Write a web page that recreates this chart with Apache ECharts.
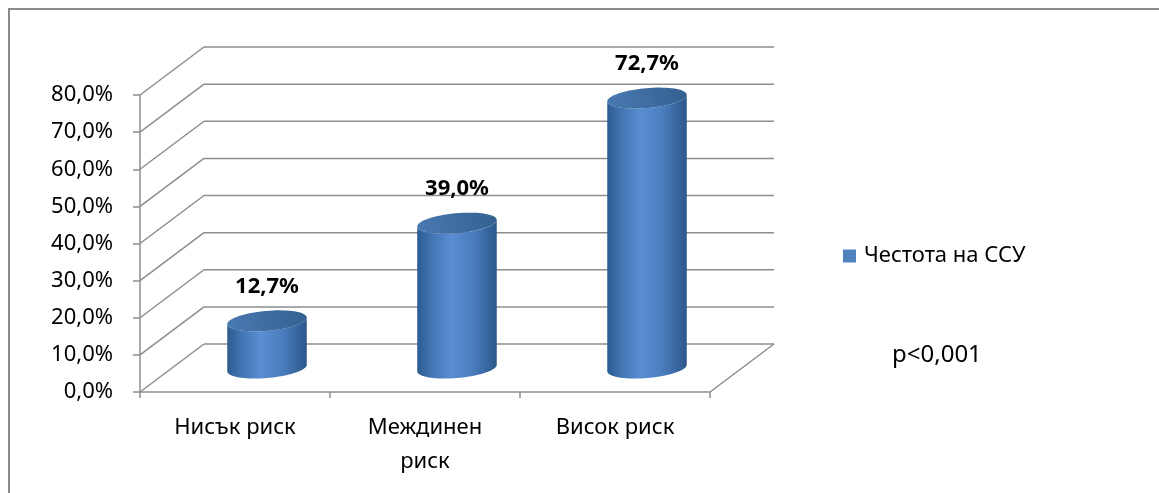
<!DOCTYPE html>
<html>
<head>
<meta charset="utf-8">
<script src="https://cdn.jsdelivr.net/npm/echarts@6/dist/echarts.min.js"></script>
<style>
  html, body { margin: 0; padding: 0; background: #fff; }
  #chart { width: 1159px; height: 493px; }
</style>
</head>
<body>
<div id="chart"></div>
<script>
// ---- data ----
const categories = ['Нисък риск', 'Междинен\nриск', 'Висок риск'];
const seriesName = 'Честота на ССУ';
const values = [12.7, 39.0, 72.7];
const yTicks = [0, 10, 20, 30, 40, 50, 60, 70, 80];
const note = 'p<0,001';

// ---- 3D look: depth offset of the back wall, cylinder tilt ----
const DX = 64, DY = -48;
const TILT = -5 * Math.PI / 180;
const FONT = '"Noto Sans", "Open Sans", sans-serif';
const GRID_COLOR = '#8e8e8e';

const fmt = v => v.toFixed(1).replace('.', ',') + '%';

function ellipsePoint(cx, cy, a, b, t) {
  const c = Math.cos(TILT), s = Math.sin(TILT);
  return [cx + a * Math.cos(t) * c - b * Math.sin(t) * s,
          cy + a * Math.cos(t) * s + b * Math.sin(t) * c];
}
function arc(cx, cy, a, b, t0, t1, n) {
  const pts = [];
  for (let k = 0; k <= n; k++) pts.push(ellipsePoint(cx, cy, a, b, t0 + (t1 - t0) * k / n));
  return pts;
}

// gridlines on the back wall, diagonals to the front axis, floor edge
function renderWalls(params, api) {
  const cs = params.coordSys;
  const v = api.value(1);
  const y = api.coord([0, v])[1];
  const x0 = cs.x, x1 = cs.x + cs.width;
  const style = { stroke: GRID_COLOR, lineWidth: 1.5 };
  const children = [
    { type: 'line', shape: { x1: x0, y1: y, x2: x0 + DX, y2: y + DY }, style },
    { type: 'line', shape: { x1: x0 + DX, y1: y + DY, x2: x1 + DX, y2: y + DY }, style }
  ];
  if (v === 0) {
    children.push({ type: 'line', shape: { x1: x1, y1: y, x2: x1 + DX, y2: y + DY }, style });
  }
  return { type: 'group', children };
}

// a cylinder standing in the middle of the floor depth
function renderCylinder(params, api) {
  const i = api.value(0), v = api.value(1);
  const base = api.coord([i, 0]);
  const top = api.coord([i, v]);
  const bw = api.size([1, 0])[0];
  const a = bw * 0.21, b = a * 0.25;
  const cx = base[0] + DX / 2;
  const yB = base[1] + DY / 2, yT = top[1] + DY / 2;
  const d = Math.atan2(b * Math.sin(TILT), a * Math.cos(TILT));
  const body = arc(cx, yB, a, b, -d, Math.PI - d, 40)
    .concat(arc(cx, yT, a, b, Math.PI - d, -d, 40));
  const cap = arc(cx, yT, a, b, 0, Math.PI * 2, 72);
  return {
    type: 'group',
    children: [
      {
        type: 'polygon', shape: { points: body },
        style: {
          fill: new echarts.graphic.LinearGradient(0, 0, 1, 0, [
            { offset: 0, color: '#2d5b91' },
            { offset: 0.18, color: '#4275b3' },
            { offset: 0.42, color: '#5a8ed2' },
            { offset: 0.7, color: '#4a7dbd' },
            { offset: 1, color: '#2c578b' }
          ])
        }
      },
      {
        type: 'polygon', shape: { points: cap },
        style: {
          fill: new echarts.graphic.LinearGradient(0, 1, 1, 0, [
            { offset: 0, color: '#4a7ab3' },
            { offset: 1, color: '#34608f' }
          ])
        }
      },
      {
        type: 'text',
        style: {
          x: cx, y: yT - 34, text: fmt(v),
          align: 'center', verticalAlign: 'middle',
          font: 'bold 22px ' + FONT, fill: '#000'
        }
      }
    ]
  };
}

const chart = echarts.init(document.getElementById('chart'), null, { renderer: 'canvas' });
chart.setOption({
  animation: false,
  backgroundColor: '#fff',
  grid: { left: 140, right: 449, top: 95, bottom: 101, containLabel: false },
  legend: {
    data: [seriesName], left: 843, top: 245, padding: 0,
    icon: 'rect', itemWidth: 13, itemHeight: 13, itemGap: 5,
    textStyle: { fontFamily: FONT, fontSize: 22, color: '#000', padding: [0, 0, 0, 3] }
  },
  xAxis: {
    type: 'category', data: categories,
    axisLine: { lineStyle: { color: GRID_COLOR, width: 1.5 } },
    axisTick: { show: true, length: 6, lineStyle: { color: GRID_COLOR, width: 1.5 } },
    axisLabel: { margin: 19, fontFamily: FONT, fontSize: 22, color: '#000', lineHeight: 34 },
    splitLine: { show: false }
  },
  yAxis: {
    type: 'value', min: 0, max: 80, interval: 10,
    axisLine: { show: true, lineStyle: { color: GRID_COLOR, width: 1.5 } },
    axisTick: { show: true, length: 7, lineStyle: { color: GRID_COLOR, width: 1.5 } },
    axisLabel: { margin: 27, fontFamily: FONT, fontSize: 22, color: '#000', formatter: fmt },
    splitLine: { show: false }
  },
  series: [
    {
      name: 'walls', type: 'custom', silent: true, z: 1,
      renderItem: renderWalls,
      data: yTicks.map(t => [0, t])
    },
    {
      name: seriesName, type: 'custom', z: 3,
      itemStyle: { color: '#4f81bd' },
      renderItem: renderCylinder,
      data: values.map((v, i) => [i, v])
    }
  ],
  graphic: [
    {
      type: 'rect', silent: true, z: 0,
      shape: { x: 9, y: 9, width: 1300, height: 700 },
      style: { fill: 'none', stroke: '#8a8a8a', lineWidth: 2 }
    },
    {
      type: 'text', left: 892, top: 343,
      style: { text: note, font: '24px ' + FONT, fill: '#000' }
    }
  ]
});
</script>
</body>
</html>
